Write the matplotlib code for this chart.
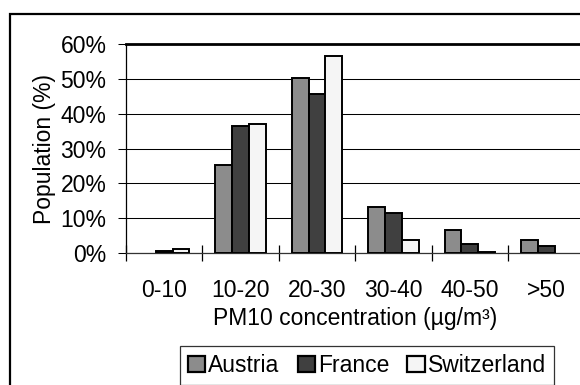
import matplotlib.pyplot as plt
from matplotlib.patches import Rectangle
from matplotlib.ticker import FixedLocator, FuncFormatter
import numpy as np

plt.rcParams['font.family'] = ['Liberation Sans', 'DejaVu Sans']

categories = ['0-10', '10-20', '20-30', '30-40', '40-50', '>50']
austria = [0.0, 25.4, 50.1, 13.2, 6.7, 3.8]
france = [0.7, 36.5, 45.7, 11.6, 2.7, 1.9]
switzerland = [1.1, 37.1, 56.6, 3.8, 0.4, 0.0]
series = [('Austria', austria, '#8c8c8c'),
          ('France', france, '#404040'),
          ('Switzerland', switzerland, '#f5f5f5')]

fs = 16.5

fig = plt.figure(figsize=(5.8, 3.85), dpi=100)
# outer chart frame (cropped on right/bottom in the original)
fig.patches.append(Rectangle((10 / 580, -0.1), 1.0, 1 - 14 / 385 + 0.1,
                             transform=fig.transFigure, fill=False,
                             edgecolor='black', linewidth=1.6, clip_on=False))

ax = fig.add_axes([126 / 580, 1 - 253 / 385, 458.4 / 580, 209 / 385])

x = np.arange(len(categories))
w = 0.22
for i, (name, vals, col) in enumerate(series):
    lw = [1.4 if v > 0 else 0 for v in vals]
    ax.bar(x + (i - 1) * w, vals, w, color=col, edgecolor='black',
           linewidth=lw, label=name, zorder=3)

ax.set_xlim(-0.5, len(categories) - 0.5)
ax.set_ylim(0, 60)
ax.set_yticks(range(0, 61, 10))
ax.yaxis.set_major_formatter(FuncFormatter(lambda v, p: '%d%%' % v))
ax.grid(axis='y', color='black', linewidth=0.75, zorder=1)

ax.set_xticks(x)
ax.set_xticklabels(categories)
ax.xaxis.set_minor_locator(FixedLocator(np.arange(-0.5, len(categories), 1.0)))
ax.tick_params(axis='x', which='major', length=0, pad=19, labelsize=fs)
ax.tick_params(axis='x', which='minor', direction='inout', length=11, width=0.9)
ax.tick_params(axis='y', which='major', direction='out', length=6, width=0.75,
               labelsize=fs, pad=8)

for s in ['left', 'bottom']:
    ax.spines[s].set_linewidth(0.9)
ax.spines['bottom'].set_color('#333333')
ax.spines['top'].set_linewidth(2.0)
ax.spines['right'].set_linewidth(2.0)

ax.set_xlabel('PM10 concentration (µg/m³)', fontsize=fs, labelpad=3)
ax.set_ylabel('Population (%)', fontsize=fs, labelpad=3)

leg = ax.legend(loc='center', bbox_to_anchor=(367 / 580, 19.5 / 385),
                bbox_transform=fig.transFigure, ncol=3, fontsize=fs,
                frameon=True, fancybox=False, edgecolor='black',
                handlelength=0.75, handleheight=0.75, handletextpad=0.15,
                columnspacing=0.78, borderpad=0.35, borderaxespad=0)
leg.get_frame().set_linewidth(0.9)
for h in leg.legend_handles:
    h.set_linewidth(1.6)

fig.savefig('out.png', dpi=100)
